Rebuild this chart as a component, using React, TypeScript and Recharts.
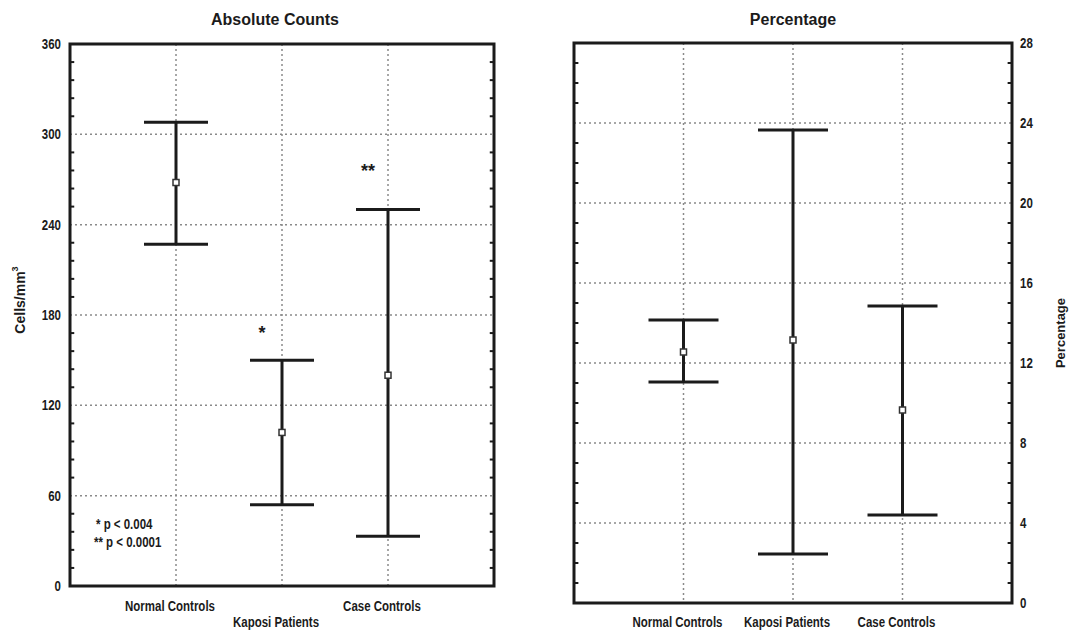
import {
  CartesianGrid,
  ComposedChart,
  ErrorBar,
  ReferenceArea,
  ReferenceLine,
  Scatter,
  XAxis,
  YAxis,
} from "recharts";

const groups = ["Normal Controls", "Kaposi Patients", "Case Controls"];
const groupX = [1, 2, 3];

// absolute counts (cells/mm3)
const countMean = [268, 102, 140];
const countLow = [227, 54, 33];
const countHigh = [308, 150, 250];
const countTicks = [0, 60, 120, 180, 240, 300, 360];
const countMinor = [12, 24, 36, 48, 72, 84, 96, 108, 132, 144, 156, 168, 192, 204, 216, 228, 252, 264, 276, 288, 312, 324, 336, 348];
const countStars = ["", "*", "**"];
const countStarY = [null, 171, 278];

// percentage
const pctMean = [12.55, 13.15, 9.65];
const pctLow = [11.05, 2.45, 4.4];
const pctHigh = [14.15, 23.65, 14.85];
const pctTicks = [0, 4, 8, 12, 16, 20, 24, 28];
const pctMinor = [1, 2, 3, 5, 6, 7, 9, 10, 11, 13, 14, 15, 17, 18, 19, 21, 22, 23, 25, 26, 27];

const font = "'Liberation Sans', Arial, sans-serif";
const ink = "#1b1b1b";

const makeRows = (mean: number[], low: number[], high: number[]) =>
  groupX.map((x, i) => ({ x, y: mean[i], err: [mean[i] - low[i], high[i] - mean[i]] }));

const countRows = makeRows(countMean, countLow, countHigh);
const pctRows = makeRows(pctMean, pctLow, pctHigh);
const starRows = groupX
  .map((x, i) => ({ x, y: countStarY[i], mark: countStars[i] }))
  .filter((d) => d.y !== null);

// the scan uses a condensed bold face; squeeze Liberation Sans Bold to match
function Narrow({ x, y, anchor = "middle", size = 14, children }: any) {
  return (
    <text
      transform={`translate(${x},${y}) scale(0.82,1)`}
      textAnchor={anchor}
      dominantBaseline="central"
      fontFamily={font}
      fontWeight={700}
      fontSize={size}
      fill={ink}
    >
      {children}
    </text>
  );
}

const MeanBox = (props: any) => (
  <rect x={props.cx - 3} y={props.cy - 3} width={6} height={6} fill="#fff" stroke="#333" strokeWidth={1.5} />
);

const StarMark = (props: any) => (
  <text x={props.cx - 20} y={props.cy + 10} textAnchor="middle" fontFamily={font} fontWeight={700} fontSize={18} fill={ink}>
    {props.payload.mark}
  </text>
);

const GroupTick = (props: any) => {
  const { x, y, payload, stagger } = props;
  const i = groupX.indexOf(payload.value);
  const dy = stagger ? (i === 1 ? 36 : 20) : 19;
  return <Narrow x={x - 6} y={y + dy}>{groups[i]}</Narrow>;
};

const ValueTick = (props: any) => (
  <Narrow x={props.x} y={props.y} anchor={props.textAnchor}>{props.payload.value}</Narrow>
);

// short inward tick marks on both sides of the frame
const minorMarks = (ticks: number[]) =>
  ticks.flatMap((v) => [
    <ReferenceLine key={`l${v}`} segment={[{ x: 0, y: v }, { x: 0.04, y: v }]} stroke={ink} strokeWidth={2} />,
    <ReferenceLine key={`r${v}`} segment={[{ x: 3.96, y: v }, { x: 4, y: v }]} stroke={ink} strokeWidth={2} />,
  ]);

export default function App() {
  return (
    <div style={{ position: "relative", width: 1070, height: 637, background: "#fff" }}>
      <style>{`body{margin:0}`}</style>
      <div style={{ position: "absolute", left: 0, top: 0 }}>
        <ComposedChart width={535} height={637} margin={{ top: 44, right: 41, bottom: 21, left: 30 }}>
          <CartesianGrid stroke="#8a8a8a" strokeWidth={1.5} strokeDasharray="2 3" />
          <XAxis
            type="number"
            dataKey="x"
            domain={[0, 4]}
            ticks={groupX}
            axisLine={false}
            tickLine={false}
            tickSize={0}
            tickMargin={0}
            height={30}
            tick={<GroupTick stagger />}
          />
          <YAxis
            type="number"
            dataKey="y"
            domain={[0, 360]}
            ticks={countTicks}
            width={40}
            axisLine={false}
            tickLine={false}
            tickSize={0}
            tickMargin={9}
            tick={<ValueTick />}
          />
          {minorMarks(countMinor)}
          <ReferenceArea x1={0} x2={4} y1={0} y2={360} fill="none" stroke={ink} strokeWidth={3} />
          <Scatter data={countRows} dataKey="y" shape={<MeanBox />} isAnimationActive={false}>
            <ErrorBar dataKey="err" direction="y" width={32} stroke={ink} strokeWidth={3} isAnimationActive={false} />
          </Scatter>
          <Scatter data={starRows} dataKey="y" shape={<StarMark />} isAnimationActive={false} />
          <text x={275} y={19} textAnchor="middle" dominantBaseline="central" fontFamily={font} fontWeight={700} fontSize={16} fill={ink}>
            Absolute Counts
          </text>
          <text transform="translate(20,300) rotate(-90)" textAnchor="middle" dominantBaseline="central" fontFamily={font} fontWeight={700} fontSize={14} fill={ink}>
            Cells/mm<tspan dy={-5} fontSize={9}>3</tspan>
          </text>
          <Narrow x={96} y={524} anchor="start">* p &lt; 0.004</Narrow>
          <Narrow x={94} y={542} anchor="start">** p &lt; 0.0001</Narrow>
        </ComposedChart>
      </div>
      <div style={{ position: "absolute", left: 535, top: 0 }}>
        <ComposedChart width={535} height={637} margin={{ top: 43, right: 18, bottom: 4, left: 39 }}>
          <CartesianGrid stroke="#8a8a8a" strokeWidth={1.5} strokeDasharray="2 3" />
          <XAxis
            type="number"
            dataKey="x"
            domain={[0, 4]}
            ticks={groupX}
            axisLine={false}
            tickLine={false}
            tickSize={0}
            tickMargin={0}
            height={30}
            tick={<GroupTick />}
          />
          <YAxis
            type="number"
            dataKey="y"
            orientation="right"
            domain={[0, 28]}
            ticks={pctTicks}
            width={40}
            axisLine={false}
            tickLine={false}
            tickSize={0}
            tickMargin={8}
            tick={<ValueTick />}
          />
          {minorMarks(pctMinor)}
          <ReferenceArea x1={0} x2={4} y1={0} y2={28} fill="none" stroke={ink} strokeWidth={3} />
          <Scatter data={pctRows} dataKey="y" shape={<MeanBox />} isAnimationActive={false}>
            <ErrorBar dataKey="err" direction="y" width={35} stroke={ink} strokeWidth={3} isAnimationActive={false} />
          </Scatter>
          <text x={258} y={19} textAnchor="middle" dominantBaseline="central" fontFamily={font} fontWeight={700} fontSize={16} fill={ink}>
            Percentage
          </text>
          <text transform="translate(525,333) rotate(-90)" textAnchor="middle" dominantBaseline="central" fontFamily={font} fontWeight={700} fontSize={13} fill={ink}>
            Percentage
          </text>
        </ComposedChart>
      </div>
    </div>
  );
}
